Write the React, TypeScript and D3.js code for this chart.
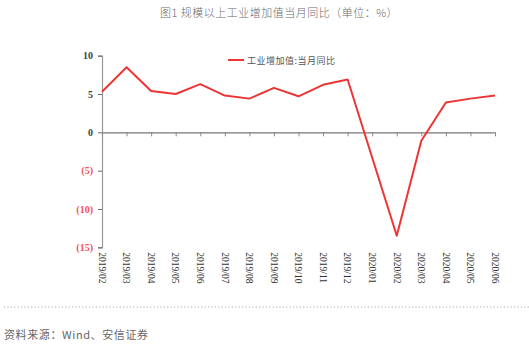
import { useEffect, useRef } from 'react';
import * as d3 from 'd3';

// months on the category axis
const months = [
  '2019/02', '2019/03', '2019/04', '2019/05', '2019/06', '2019/07', '2019/08', '2019/09',
  '2019/10', '2019/11', '2019/12', '2020/01', '2020/02', '2020/03', '2020/04', '2020/05', '2020/06',
];

// 工业增加值:当月同比 (2020/01 has no value, the line runs straight through)
const growth: (number | null)[] = [
  5.3, 8.5, 5.4, 5.0, 6.3, 4.8, 4.4, 5.8, 4.7, 6.2, 6.9, null, -13.5, -1.1, 3.9, 4.4, 4.8,
];

const yTicks = [10, 5, 0, -5, -10, -15];

const seriesName = '工业增加值:当月同比';
const title = '图1 规模以上工业增加值当月同比（单位：%）';
const source = '资料来源：Wind、安信证券';

export default function App() {
  const svgRef = useRef<SVGSVGElement>(null);
  const width = 529;
  const height = 352;

  useEffect(() => {
    if (!svgRef.current) return;
    const svg = d3.select(svgRef.current);
    svg.selectAll('*').remove();

    const left = 102;
    const right = 495;
    const top = 55.7;
    const bottom = 247.3;

    const x = d3.scalePoint<string>().domain(months).range([left, right]);
    const y = d3.scaleLinear().domain([-15, 10]).range([bottom, top]);

    const sans = "'Noto Sans CJK SC', 'Noto Sans', sans-serif";
    const serif = "'Liberation Serif', 'DejaVu Serif', serif";

    // title
    svg.append('text')
      .attr('x', 279)
      .attr('y', 17)
      .attr('text-anchor', 'middle')
      .style('font-family', sans)
      .style('font-size', '11px')
      .style('font-weight', '300')
      .style('letter-spacing', '0.5px')
      .style('fill', '#6a6a6a')
      .text(title);

    // y axis
    const yAxis = svg.append('g')
      .attr('transform', `translate(${left},0)`)
      .call(d3.axisLeft(y).tickValues(yTicks).tickSize(4).tickFormat(d => {
        const v = +d;
        return v < 0 ? `(${Math.abs(v)})` : `${v}`;
      }));
    yAxis.select('.domain').attr('stroke', '#999').attr('stroke-width', 1.2);
    yAxis.selectAll('.tick line').attr('stroke', '#666');
    yAxis.selectAll('.tick text')
      .attr('x', -9)
      .style('font-family', serif)
      .style('font-size', '10px')
      .style('font-weight', 'bold')
      .style('fill', d => (+d! < 0 ? '#f0555a' : '#404040'));

    // zero line with category ticks
    const xAxis = svg.append('g')
      .attr('transform', `translate(0,${y(0)})`)
      .call(d3.axisBottom(x).tickSize(4).tickSizeOuter(0).tickFormat(() => ''));
    xAxis.select('.domain').attr('stroke', '#777').attr('stroke-width', 1.2);
    xAxis.selectAll('.tick line').attr('stroke', '#888');

    // rotated month labels
    svg.append('g')
      .selectAll('text')
      .data(months)
      .enter()
      .append('text')
      .attr('transform', d => `translate(${x(d)! - 3.2},${bottom + 5}) rotate(90)`)
      .style('font-family', serif)
      .style('font-size', '9.5px')
      .style('fill', '#333')
      .text(d => d);

    // series line
    const pts = months
      .map((m, i) => ({ m, v: growth[i] }))
      .filter(d => d.v !== null) as { m: string; v: number }[];
    const line = d3.line<{ m: string; v: number }>()
      .x(d => x(d.m)!)
      .y(d => y(d.v));
    svg.append('path')
      .datum(pts)
      .attr('d', line)
      .attr('fill', 'none')
      .attr('stroke', '#ee3535')
      .attr('stroke-width', 2)
      .attr('stroke-linejoin', 'round');

    // legend
    svg.append('line')
      .attr('x1', 228).attr('x2', 244)
      .attr('y1', 60).attr('y2', 60)
      .attr('stroke', '#ee3535')
      .attr('stroke-width', 2);
    svg.append('text')
      .attr('x', 247)
      .attr('y', 63.5)
      .style('font-family', sans)
      .style('font-size', '9px')
      .style('letter-spacing', '0.5px')
      .style('fill', '#555')
      .text(seriesName);

    // dotted separator
    svg.append('line')
      .attr('x1', 4).attr('x2', 529)
      .attr('y1', 307).attr('y2', 307)
      .attr('stroke', '#aaa')
      .attr('stroke-width', 1.2)
      .attr('stroke-dasharray', '1.2,2.2');

    // source
    svg.append('text')
      .attr('x', 4)
      .attr('y', 339)
      .style('font-family', sans)
      .style('font-size', '11px')
      .style('letter-spacing', '0.6px')
      .style('fill', '#666')
      .text(source);
  }, []);

  return (
    <svg
      ref={svgRef}
      width={width}
      height={height}
      style={{ position: 'absolute', left: 0, top: 0, background: '#fff' }}
    />
  );
}
